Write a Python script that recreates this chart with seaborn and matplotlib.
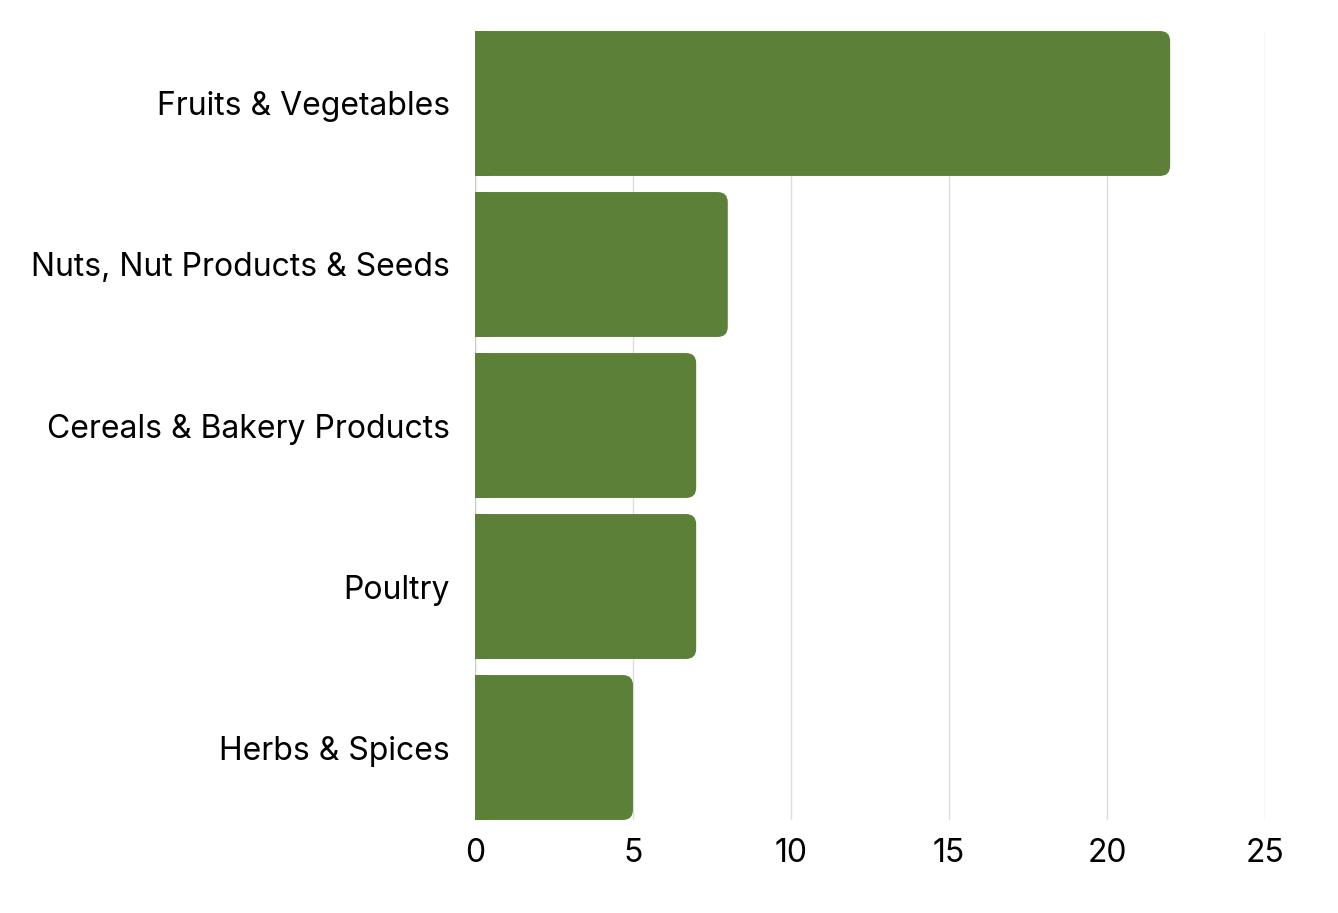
import seaborn as sns
import pandas as pd
import matplotlib.pyplot as plt
from matplotlib.patches import FancyBboxPatch, Rectangle

categories = ['Fruits & Vegetables', 'Nuts, Nut Products & Seeds',
              'Cereals & Bakery Products', 'Poultry', 'Herbs & Spices']
counts = [22, 8, 7, 7, 5]
xticks = [0, 5, 10, 15, 20, 25]

df = pd.DataFrame({'category': categories, 'count': counts})

sns.set_style('white')
plt.rcParams['font.family'] = ['Inter', 'DejaVu Sans']

fig = plt.figure(figsize=(13.38, 9.13), dpi=100)
ax = fig.add_axes([0.355, 0.1019, 0.5904, 0.8641])

green = '#5c8038'
sns.barplot(data=df, y='category', x='count', orient='h', color=green,
            width=0.9, saturation=1, ax=ax)

ax.set_xlim(0, 25)
ax.set_ylim(4.45, -0.45)

# swap plain bars for ones with rounded right corners
r = 0.32  # x units (~10px)
aspect = (1 / 161.0) / (1 / 31.6)
for p in list(ax.patches):
    x, y = p.get_x(), p.get_y()
    w, h = p.get_width(), p.get_height()
    p.remove()
    ax.add_patch(FancyBboxPatch((x, y), w, h,
                                boxstyle=f'round,pad=0,rounding_size={r}',
                                mutation_aspect=aspect, fc=green, ec='none',
                                zorder=2))
    # square off the left corners
    ax.add_patch(Rectangle((x, y), r * 1.5, h, fc=green, ec='none',
                           zorder=2))

ax.set_xticks(xticks)
ax.set_xticklabels([str(t) for t in xticks])
ax.grid(axis='x', color='#dddddd', linewidth=1)
ax.set_axisbelow(True)
for s in ax.spines.values():
    s.set_visible(False)
ax.axvline(0, color='#cccccc', linewidth=1, zorder=1)

ax.set_xlabel('')
ax.set_ylabel('')
ax.tick_params(axis='y', length=0, pad=18, labelsize=23, labelcolor='black')
ax.tick_params(axis='x', length=0, pad=13, labelsize=23, labelcolor='black')

fig.savefig('out.png', dpi=100)
